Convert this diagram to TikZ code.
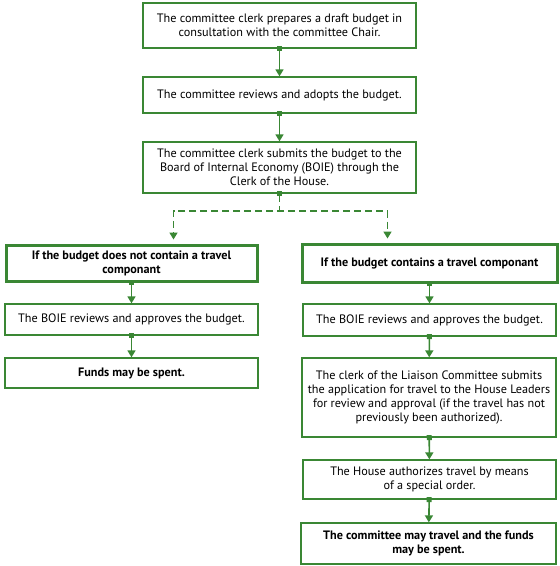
\documentclass[tikz,border=0pt]{standalone}
\usepackage{fontspec}
\setmainfont{PT Sans}
\usetikzlibrary{arrows.meta}
\definecolor{boegreen}{RGB}{58,135,52}
\tikzset{
  stepbox/.style={draw=boegreen,line width=1.3pt,fill=white,align=center,inner sep=2pt,
    font=\fontsize{12.2}{14}\selectfont},
  casebox/.style={stepbox,line width=3pt,font=\fontsize{12.2}{14}\selectfont\bfseries},
  flow/.style={boegreen,line width=1.6pt,{Square[length=5pt,width=5pt]}-{Triangle[length=7pt,width=8pt]},shorten <=-2.5pt},
  dflow/.style={flow,dash pattern=on 7pt off 4pt}
}
\begin{document}
\begin{tikzpicture}[x=1pt,y=-1pt]
            \useasboundingbox (0,0) rectangle (560,566);
            % common part
            \node[stepbox,minimum width=273pt,minimum height=45pt] (draft) at (279.5,25.5)
              {The committee clerk prepares a draft budget in\\consultation with the committee Chair.};
            \node[stepbox,minimum width=273pt,minimum height=36pt] (adopt) at (279.5,95)
              {The committee reviews and adopts the budget.};
            \node[stepbox,minimum width=273pt,minimum height=51pt] (submit) at (279.5,167.5)
              {The committee clerk submits the budget to the\\Board of Internal Economy (BOIE) through the\\Clerk of the House.};
            % no travel
            \node[casebox,minimum width=251pt,minimum height=36pt] (notravel) at (131.5,263)
              {If the budget does not contain a travel\\componant};
            \node[stepbox,minimum width=253pt,minimum height=31pt] (lboie) at (131.5,319.5)
              {The BOIE reviews and approves the budget.};
            \node[stepbox,minimum width=253pt,minimum height=30pt] (lfunds) at (131.5,373)
              {\bfseries Funds may be spent.};
            % travel
            \node[casebox,minimum width=255pt,minimum height=38pt] (travel) at (429.5,263)
              {If the budget contains a travel componant};
            \node[stepbox,minimum width=253pt,minimum height=32pt] (rboie) at (429.5,320)
              {The BOIE reviews and approves the budget.};
            \node[stepbox,minimum width=254pt,minimum height=79pt] (liaison) at (429,397.5)
              {The clerk of the Liaison Committee submits\\the application for travel to the House Leaders\\for review and approval (if the travel has not\\previously been authorized).};
            \node[stepbox,minimum width=253pt,minimum height=39pt] (order) at (429.5,479.5)
              {The House authorizes travel by means\\of a special order.};
            \node[stepbox,minimum width=255pt,minimum height=41pt] (rfunds) at (428.5,543.5)
              {\bfseries The committee may travel and the funds\\\bfseries may be spent.};
            % connectors
            \coordinate (split) at (279.5,211);
            \draw[flow] (draft) -- (adopt);
            \draw[flow] (adopt) -- (submit);
            \draw[dflow] (submit.south) -- (split) -| ([xshift=42pt,yshift=4pt]notravel.north);
            \draw[dflow,-{Triangle[length=7pt,width=8pt]}] (split) -| ([xshift=-42pt,yshift=4pt]travel.north);
            \draw[flow] (notravel) -- (lboie);
            \draw[flow] (lboie) -- (lfunds);
            \draw[flow] (travel) -- (rboie);
            \draw[flow] (rboie) -- (liaison);
            \draw[flow] (liaison) -- (order);
            \draw[flow] (order) -- (rfunds);
\end{tikzpicture}
\end{document}
